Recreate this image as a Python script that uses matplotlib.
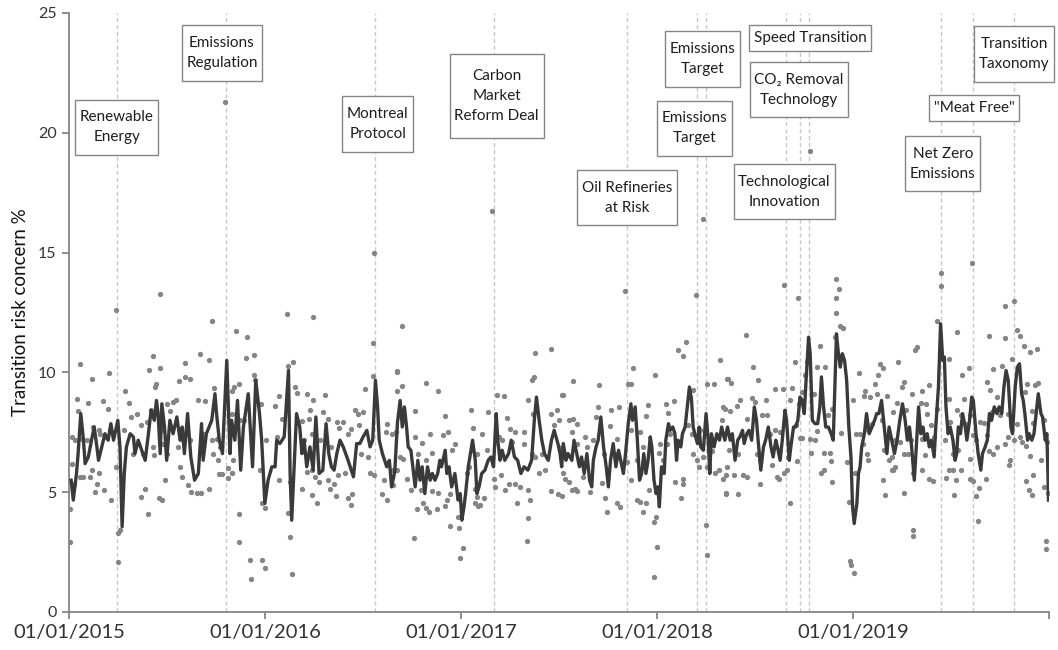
import matplotlib
matplotlib.use("Agg")
import matplotlib.pyplot as plt
from matplotlib.path import Path
import pandas as pd
import numpy as np

plt.rcParams['font.family'] = ['Lato', 'DejaVu Sans']

START = "2015-01-01"

# ---------------- smoothed line (day offset from 01/01/2015, value %) ----------------
line_day = [
    4, 8, 14, 17, 22, 27, 30, 36, 42, 47, 52, 55, 61, 67, 73, 78, 83, 91, 95, 99, 103, 107, 114, 120, 123, 129,
    142, 148, 153, 159, 163, 166, 170, 173, 178, 182, 188, 194, 201, 207, 211, 215, 221, 227, 234, 241, 247,
    250, 256, 266, 272, 275, 280, 286, 294, 300,
    303, 309, 314, 320, 325, 334, 342, 348, 355, 359, 365, 371, 378, 384, 387, 393, 401, 409, 412, 415, 419,
    424, 430, 434, 438, 443, 449, 455, 460, 466, 473, 479, 484, 489, 494, 499, 505, 511, 520, 530, 536, 542,
    548, 555, 561, 566, 571, 575, 578, 584, 592, 597, 601,
    607, 612, 617, 621, 625, 629, 632, 637, 642, 645, 650, 654, 658, 663, 668, 673, 677, 682, 687, 691, 694,
    701, 704, 708, 713, 719, 725, 729, 732, 736, 739, 744, 752, 757, 760, 764, 769, 775, 781, 786, 791, 796,
    799, 803, 807, 812, 819, 824, 830, 836, 842, 848, 855, 862, 867, 871, 876, 881, 886, 893, 899, 904, 911,
    915, 918, 921, 926, 930, 937, 941, 946, 951, 955, 960, 965, 970, 974, 977, 982, 986, 991, 996, 1001, 1005,
    1009, 1014, 1019, 1024, 1028, 1033, 1037, 1042, 1047, 1050, 1055, 1059, 1063, 1067, 1071, 1075, 1079,
    1083, 1086, 1090, 1094, 1097, 1100, 1104, 1109, 1112, 1117, 1120, 1125, 1129, 1132, 1135, 1140, 1143,
    1148, 1152, 1156, 1160, 1163, 1166, 1171, 1174, 1177, 1182, 1187, 1191, 1194, 1197, 1202, 1207, 1212, 1216,
    1222, 1227, 1232, 1236, 1241, 1246, 1250, 1255, 1258, 1263, 1267, 1272, 1277, 1281, 1284, 1289, 1294,
    1298, 1303, 1308, 1312, 1317, 1320, 1325, 1329, 1334, 1337, 1342, 1345, 1350, 1354, 1358, 1362, 1366,
    1370, 1373, 1378, 1381, 1385, 1390, 1395, 1399, 1402, 1406, 1410, 1415, 1420, 1424, 1427, 1430, 1433,
    1437, 1441, 1445, 1449, 1453, 1457, 1460, 1463, 1468, 1471, 1474, 1477, 1482, 1486, 1491, 1496, 1501,
    1505, 1509, 1514, 1519, 1524, 1528, 1533, 1538,
    1543, 1548, 1553, 1558, 1562, 1566, 1570, 1575, 1578, 1583, 1587, 1591, 1595, 1599, 1603, 1607, 1612,
    1615, 1620, 1624, 1628, 1631, 1634, 1638, 1642, 1647, 1651, 1654, 1657, 1661, 1665, 1670, 1673, 1678,
    1682, 1685, 1690, 1694, 1699, 1702, 1707, 1711, 1715, 1719, 1724, 1729, 1733, 1738, 1742, 1746, 1750,
    1755, 1758, 1763, 1767, 1771, 1775, 1778, 1781, 1786, 1789, 1794, 1798, 1802, 1806, 1811, 1814, 1819,
    1822, 1824, 1825,
]
line_val = [
    5.5, 4.67, 5.78, 6.61, 8.28, 7.17, 6.19, 6.47, 7.17, 7.72, 6.89, 6.33, 6.89, 7.44, 7.17, 7.86, 7.17, 8.0,
    6.89, 3.56, 5.78, 6.89, 7.44, 7.31, 6.61, 7.17,
    6.33, 7.44, 8.42, 8.0, 8.83, 8.28, 6.61, 8.69, 7.72, 6.33, 8.0, 7.44, 8.14, 7.17, 7.72, 6.61, 8.28, 6.47,
    5.5, 5.78, 7.86, 6.33, 7.44, 8.0, 9.11, 8.28, 7.17, 6.61, 10.5, 6.61,
    8.0, 7.17, 8.83, 5.92, 7.72, 9.11, 6.06, 9.67, 8.28, 7.17, 4.53, 5.5, 6.06, 6.06, 7.17, 7.03, 7.31, 10.08,
    5.78, 3.83, 5.78, 8.28, 7.72, 6.61, 7.17, 6.06, 6.89, 5.92, 8.14, 5.78, 5.92, 7.86, 6.61, 6.06, 5.92, 6.61,
    7.17, 6.89, 6.33, 5.64, 7.03, 7.03, 7.31, 7.58, 6.89, 7.17, 9.67, 8.56, 7.17, 6.61, 6.06, 6.33, 5.22,
    5.85, 7.9, 8.83, 7.72, 8.56, 7.72, 6.89, 6.75, 5.78, 5.22, 6.33, 5.5, 6.06, 4.94, 6.06, 5.5, 5.78, 5.5,
    5.78, 6.33, 6.06, 6.75, 5.78, 6.06, 5.22, 5.78, 4.67, 4.94, 3.83, 4.39, 4.94, 6.06, 7.17, 6.33, 4.94, 5.22,
    5.78, 5.92, 6.33, 6.47, 6.06, 8.28, 7.17, 6.33, 6.75, 6.33, 6.61, 7.17, 6.47, 6.33, 5.78, 6.06, 5.92, 6.33,
    8.0, 8.97, 8.0, 7.17, 6.61, 6.33, 7.17, 7.58, 7.03,
    6.61, 6.06, 7.03, 6.33, 6.61, 6.33, 7.17, 6.61, 6.06, 6.47, 5.78, 6.61, 5.5, 5.22, 6.33, 6.89, 7.17, 8.14,
    6.89, 6.06, 5.22, 6.33, 7.03, 6.06, 6.75, 6.33, 5.78, 6.61, 7.86, 8.69, 8.0, 8.56, 7.17, 5.5, 5.78, 6.61,
    5.78, 6.33, 7.31, 6.89, 5.5, 4.94, 5.22, 4.39, 6.06, 5.78, 7.17, 7.86, 7.58, 7.72, 7.44, 6.33, 7.17, 6.89,
    7.44, 7.72, 8.56, 9.39, 8.83, 7.72, 7.44, 7.03, 7.72, 6.89, 6.75, 8.28, 7.17, 5.78, 7.44, 6.89, 7.44, 7.17,
    7.72,
    7.17, 7.72, 7.17, 7.44, 6.33, 7.17, 7.31, 7.58, 7.03, 7.44, 7.58, 7.17, 8.56, 8.0, 7.17, 5.92, 6.89, 7.17,
    7.72, 6.89, 6.47, 7.17, 6.89, 6.33, 7.17, 8.42, 8.0, 6.33, 6.89, 7.72, 7.72, 8.0, 8.97, 8.83, 8.28, 9.53,
    11.47, 10.78, 8.0, 7.86, 7.86, 8.56, 9.81, 8.56, 7.72, 7.72, 7.44, 7.17, 9.39, 11.61, 10.92, 10.22, 10.78,
    10.5, 9.67, 7.72, 6.47, 4.39, 3.69, 4.53, 5.78, 6.06, 6.89, 7.44, 8.28, 7.44, 7.72, 8.0, 8.28, 8.28, 8.83,
    7.72, 6.61, 7.72, 7.17, 6.61,
    7.17, 8.0, 8.69, 8.0, 7.17, 7.72, 6.89, 5.5, 6.61, 8.56, 7.44, 7.72, 7.17, 7.44, 6.89, 7.17, 6.47, 7.72,
    9.39, 12.03, 10.5, 10.64, 8.56, 7.44, 7.72, 7.17, 6.33, 6.61, 7.72, 7.44, 8.28, 7.72, 7.17, 8.0, 8.97, 8.83,
    7.44, 6.61, 5.92, 6.61, 6.89, 7.17, 8.28, 8.0, 8.56, 8.28, 8.56, 8.28, 9.39, 10.08, 9.67, 7.72, 7.44, 9.39,
    10.22, 10.36, 9.11, 8.83, 8.28, 7.17, 7.44, 7.17, 7.44, 8.28, 9.11, 8.28, 8.14, 7.17, 7.44, 5.78, 4.67,
]

# ---------------- daily observations (day offset, value %) ----------------
obs_day = [
    # 2015
    170, 87, 266, 20, 156, 244, 261, 216, 170, 149, 75, 43, 216, 225, 205, 163, 161, 270, 104, 15, 36, 64, 241,
    253, 112, 72, 17, 199, 194, 182, 126, 116, 153, 188, 6, 11, 24, 33, 45, 55, 58, 67, 76, 103, 134, 145, 173,
    176, 129, 120, 137, 157, 159, 182, 204, 213, 225, 247, 250, 266, 269, 275, 278, 281, 5, 10, 20, 27, 39, 42,
    52, 55, 66, 48, 78, 87, 92, 95, 92, 2, 2, 142, 135, 147, 168, 174, 179, 207, 211, 222, 227, 238, 246, 260,
    280, 286, 297, 297, 303, 291,
    # late 2015 - mid 2016
    568, 406, 455, 311, 331, 567, 330, 345, 418, 409, 611, 345, 567, 347, 317, 307, 303, 421, 424, 477, 552,
    392, 443, 454, 611, 357, 384, 449, 473, 483, 533, 539, 547, 303, 319, 326, 396, 434, 448, 500, 511, 504,
    525, 519, 541, 592, 591, 601, 609, 368, 387, 437, 452, 468, 489, 545, 558, 306, 303, 355, 392, 411, 443,
    452, 458, 466, 483, 493, 502, 514, 560, 568, 587, 584, 593, 434, 452, 463, 486, 498, 519, 525, 527, 359,
    365, 316, 409, 317, 337, 359, 365, 339, 412, 415, 604, 604,
    # 2016 - 2017
    621, 898, 868, 867, 863, 611, 621, 666, 687, 797, 811, 856, 919, 645, 701, 749, 752, 781, 817, 822, 831,
    847, 865, 899, 909, 913, 904, 673, 696, 707, 719, 714, 657, 645, 651, 677, 666, 617, 623, 770, 778, 761,
    801, 807, 826, 848, 862, 868, 881, 890, 611, 629, 638, 656, 677, 688, 704, 710, 741, 745, 757, 760, 766,
    774, 791, 794, 805, 812, 819, 831, 840, 856, 859, 855, 853, 875, 886, 898, 912, 918, 660, 666, 671, 648,
    685, 701, 710, 727, 724, 735, 729, 642, 757, 763, 834, 788,
    # late 2017 - 2018
    1036, 1168, 1150, 1135, 1144, 1213, 1050, 1092, 1226, 940, 988, 1042, 1048, 1188, 1201, 920, 1163, 1157,
    1127, 1112, 1078, 1075, 1117, 986, 1009, 1024, 1219, 1222, 1216, 932, 940, 947, 982, 937, 962, 1008, 1021,
    1064, 1069, 1047, 1101, 1114, 1120, 1154, 1160, 1176, 1163, 1170, 1181, 918, 924, 946, 965, 976, 996,
    1022, 1039, 1059, 1099, 1107, 1188, 1204, 1212, 1226, 1198, 920, 924, 932, 943, 947, 937, 957, 971, 993,
    1005, 999, 1002, 1021, 1027, 1047, 1059, 1064, 1075, 1070, 1081, 1090, 1094, 1129, 1144, 1144, 1140, 1173,
    1187, 1188, 1096, 1090, 1224, 1218, 1181,
    # mid 2018 - mid 2019
    1333, 1359, 1429, 1435, 1429, 1429, 1437, 1443, 1261, 1427, 1399, 1353, 1376, 1393, 1409, 1275, 1472,
    1227, 1233, 1283, 1511, 1517, 1507, 1316, 1331, 1347, 1371, 1389, 1366, 1501, 1483, 1482, 1492, 1525,
    1272, 1278, 1298, 1300, 1250, 1232, 1244, 1263, 1291, 1343, 1360, 1421, 1415, 1461, 1505, 1514, 1496,
    1489, 1325, 1316, 1306, 1354, 1362, 1365, 1381, 1393, 1390, 1438, 1466, 1474, 1480, 1488, 1230, 1246,
    1281, 1288, 1309, 1340, 1337, 1356, 1383, 1406, 1418, 1420, 1449, 1465, 1486, 1489, 1519, 1528, 1533,
    1225, 1240, 1256, 1263, 1288, 1319, 1323, 1333, 1402, 1407, 1421, 1225, 1246, 1343, 1455, 1457, 1463,
    1453, 1520, 1517, 1381,
    # 2019
    1682, 1624, 1624, 1760, 1744, 1618, 1766, 1772, 1715, 1744, 1580, 1576, 1780, 1791, 1804, 1654, 1639,
    1545, 1677, 1663, 1722, 1738, 1757, 1556, 1553, 1603, 1590, 1570, 1711, 1716, 1729, 1800, 1806, 1785,
    1781, 1542, 1597, 1587, 1668, 1639, 1618, 1535, 1560, 1599, 1607, 1678, 1697, 1704, 1719, 1735, 1750,
    1750, 1766, 1772, 1794, 1797, 1816, 1819, 1642, 1654, 1662, 1673, 1539, 1548, 1568, 1589, 1611, 1632,
    1685, 1690, 1710, 1730, 1744, 1760, 1775, 1784, 1823, 1533, 1555, 1564, 1595, 1648, 1657, 1679, 1715,
    1722, 1753, 1791, 1812, 1535, 1539, 1573, 1589, 1603, 1609, 1639, 1647, 1634, 1653, 1662, 1679, 1685,
    1696, 1709, 1752, 1783, 1788, 1794, 1797, 1817, 1825, 1555, 1649, 1690, 1694, 1573, 1572, 1820, 1820,
]
obs_val = [
    # 2015
    13.28, 12.61, 12.14, 10.33, 10.67, 10.75, 10.5, 10.39, 10.19, 10.08, 9.99, 9.74, 9.81, 9.74, 9.64, 9.5,
    9.39, 9.36, 9.21, 8.9, 8.72, 8.79, 8.83, 8.81, 8.74, 8.49, 8.39, 8.86, 8.76, 8.69, 8.28, 8.14, 8.42, 8.38,
    7.31, 7.17, 7.24, 7.19, 7.72, 7.58, 7.44, 7.31, 7.61, 7.58, 7.82, 7.93, 7.58, 7.03, 7.03, 6.61, 6.61, 6.89,
    6.54, 6.61, 6.89, 7.17, 7.17, 7.31, 7.44, 7.17, 6.61, 7.24, 6.33, 6.89, 6.19, 5.36, 5.64, 5.64, 5.64, 5.92,
    5.36, 5.78, 5.08, 5.01, 4.67, 6.06, 3.28, 3.42, 2.08, 4.28, 2.93, 5.15, 4.81, 4.11, 4.76, 4.67, 5.5, 6.06,
    5.64, 5.29, 5.01, 4.97, 4.97, 5.15, 5.75, 5.75, 5.61, 5.99, 5.78, 21.3,
    # late 2015 - mid 2016
    14.97, 12.42, 12.31, 11.71, 11.47, 11.22, 10.61, 10.71, 10.43, 10.25, 10.04, 9.88, 9.83, 9.67, 9.5, 9.39,
    9.22, 9.39, 9.14, 9.07, 9.31, 9.0, 9.1, 8.83, 9.22, 8.67, 8.58, 8.42, 8.36, 8.06, 8.42, 8.28, 8.33, 8.28,
    8.0, 8.0, 8.07, 7.97, 8.07, 7.92, 7.92, 7.69, 7.65, 7.42, 7.79, 7.83, 7.51, 7.44, 7.51, 7.17, 7.31, 7.17,
    7.44, 7.19, 6.89, 6.61, 6.47, 6.33, 5.78, 5.92, 5.5, 5.43, 5.85, 5.92, 5.64, 5.43, 5.5, 5.36, 5.71, 5.78,
    5.78, 5.71, 5.5, 4.94, 4.67, 5.15, 4.88, 4.56, 5.15, 4.83, 4.74, 4.46, 4.94, 4.53, 4.32, 4.11, 4.14, 2.93,
    2.19, 2.19, 1.82, 1.36, 3.14, 1.58, 5.29, 5.92,
    # 2016 - 2017
    11.94, 10.97, 10.81, 9.81, 9.69, 10.01, 9.42, 9.56, 9.21, 9.04, 9.0, 8.83, 9.04, 8.39, 8.18, 8.44, 7.69,
    8.35, 8.11, 7.63, 7.51, 7.5, 8.28, 8.28, 8.42, 8.0, 7.79, 7.44, 7.4, 7.5, 7.0, 6.75, 7.06, 7.31, 6.61,
    6.64, 6.33, 6.47, 6.4, 7.44, 6.75, 6.61, 7.31, 7.17, 7.1, 7.0, 6.61, 6.47, 6.61, 6.47, 5.92, 5.57, 5.08,
    5.11, 5.06, 4.97, 4.67, 4.94, 5.78, 6.06, 5.15, 4.81, 4.46, 4.76, 5.57, 5.22, 5.71, 5.11, 5.36, 5.36,
    5.22, 5.11, 4.67, 3.94, 2.96, 5.78, 5.92, 5.06, 4.94, 4.83, 4.53, 4.32, 4.18, 4.28, 4.28, 4.44, 3.58,
    3.49, 3.97, 2.65, 2.24, 3.07, 4.53, 4.43, 4.53, 16.75,
    # late 2017 - 2018
    13.39, 13.24, 11.28, 10.92, 10.69, 10.5, 10.19, 9.88, 9.74, 9.63, 9.47, 9.53, 9.5, 9.5, 9.5, 9.04, 9.28,
    8.97, 8.79, 8.69, 8.63, 8.18, 8.31, 8.56, 8.44, 8.56, 8.56, 8.49, 8.0, 8.0, 8.07, 7.83, 8.14, 7.51, 7.31,
    7.75, 7.24, 7.51, 6.89, 7.61, 7.0, 7.0, 7.44, 7.79, 7.44, 7.58, 6.61, 6.33, 6.47, 6.89, 6.61, 7.03, 6.89,
    7.17, 6.61, 6.61, 6.26, 6.33, 6.64, 6.33, 6.06, 5.78, 5.92, 6.06, 6.72, 5.78, 5.53, 5.43, 5.15, 5.06,
    5.11, 5.64, 5.01, 5.39, 5.78, 4.74, 4.18, 4.53, 4.39, 5.5, 4.67, 4.6, 4.53, 4.18, 5.08, 3.76, 3.97, 5.43,
    5.57, 5.36, 4.74, 6.06, 3.63, 2.38, 2.72, 1.44, 4.94, 5.53, 16.4,
    # mid 2018 - mid 2019
    13.65, 13.11, 13.9, 13.49, 13.11, 12.47, 11.92, 11.86, 11.57, 11.47, 11.11, 10.44, 10.43, 10.22, 10.22,
    10.22, 9.97, 9.74, 9.56, 9.67, 10.33, 10.18, 9.88, 9.32, 9.32, 9.36, 9.88, 9.11, 9.18, 9.5, 9.22, 9.0,
    8.97, 9.0, 8.94, 8.76, 8.83, 8.21, 8.83, 8.39, 8.58, 8.07, 8.21, 8.83, 8.69, 8.49, 8.21, 8.83, 9.11, 8.0,
    7.86, 7.72, 7.51, 7.58, 7.44, 7.79, 7.28, 7.28, 7.22, 7.56, 7.19, 7.47, 7.44, 7.44, 7.0, 7.58, 6.75, 6.61,
    6.61, 6.33, 6.13, 6.47, 5.92, 6.31, 6.64, 6.64, 6.64, 6.31, 6.26, 5.78, 6.61, 6.33, 6.75, 6.33, 5.92,
    5.71, 5.71, 5.71, 5.64, 5.36, 5.64, 5.53, 5.78, 5.78, 5.92, 5.43, 4.97, 4.94, 4.53, 2.14, 1.96, 1.64,
    4.6, 4.88, 5.5, 19.25,
    # 2019
    14.57, 14.15, 13.6, 12.97, 12.76, 12.14, 11.78, 11.51, 11.51, 11.43, 11.06, 10.94, 11.11, 10.85, 10.96,
    11.68, 10.57, 10.43, 10.19, 9.88, 10.15, 10.26, 10.57, 9.61, 9.39, 9.46, 9.21, 9.1, 9.61, 9.25, 8.97,
    9.46, 9.56, 9.53, 9.18, 8.74, 8.67, 8.74, 8.89, 8.9, 8.49, 8.35, 8.42, 8.28, 7.79, 8.21, 7.92, 7.89, 8.35,
    8.21, 8.28, 7.31, 7.83, 7.31, 8.39, 7.89, 8.0, 7.44, 7.93, 8.42, 8.21, 7.86, 7.17, 7.1, 7.17, 7.24, 7.31,
    7.17, 7.38, 7.17, 7.38, 6.89, 7.03, 7.17, 7.1, 6.92, 7.1, 6.47, 6.61, 6.61, 6.54, 6.61, 6.78, 6.4, 6.72,
    6.61, 6.36, 6.5, 6.36, 5.92, 6.06, 5.78, 5.94, 5.57, 5.47, 5.92, 5.94, 5.61, 5.5, 5.94, 5.57, 5.47, 5.19,
    5.57, 6.13, 5.46, 5.08, 4.88, 5.71, 5.22, 4.97, 4.97, 4.88, 4.83, 3.79, 3.42, 3.17, 2.97, 2.61,
]

# ---------------- events ----------------
event_dates = ["2015-03-31", "2015-10-20", "2016-07-24", "2017-03-03", "2017-11-05", "2018-03-17",
               "2018-04-01", "2018-08-29", "2018-09-24", "2018-10-11", "2019-06-14", "2019-08-13",
               "2019-10-28"]
event_labels = ["Renewable\nEnergy", "Emissions\nRegulation", "Montreal\nProtocol",
                "Carbon\nMarket\nReform Deal", "Oil Refineries\nat Risk", "Emissions\nTarget",
                "Emissions\nTarget", "Speed Transition", "CO\u2082 Removal\nTechnology",
                "Technological\nInnovation", "Net Zero\nEmissions", "\"Meat Free\"",
                "Transition\nTaxonomy"]
# label box centres (layout): (day offset, y in data units)
label_pos = [(89, 20.23), (285, 23.33), (575, 20.37), (797, 21.52), (1040, 17.29), (1165, 20.19),
             (1181, 23.08), (1381, 23.96), (1360, 21.79), (1333, 17.54), (1628, 18.71), (1687, 21.02),
             (1761, 23.29)]

x_ticks = ["2015-01-01", "2016-01-01", "2017-01-01", "2018-01-01", "2019-01-01", "2020-01-01"]
x_tick_labels = ["01/01/2015", "01/01/2016", "01/01/2017", "01/01/2018", "01/01/2019", ""]
y_ticks = [0, 5, 10, 15, 20, 25]

assert len(line_day) == len(line_val)
assert len(obs_day) == len(obs_val)

start = pd.Timestamp(START)
to_date = lambda d: start + pd.to_timedelta(np.asarray(d), unit="D")


def label_box(x0, y0, width, height, mutation_size):
    """Text-box outline: modest side padding, taller vertical padding."""
    px = 0.3 * mutation_size
    py = 0.22 * height + 0.2 * mutation_size
    xa, ya = x0 - px, y0 - py
    xb, yb = x0 + width + px, y0 + height + py
    return Path([(xa, ya), (xb, ya), (xb, yb), (xa, yb), (xa, ya)], closed=True)


fig = plt.figure(figsize=(10.58, 6.5), dpi=100)
ax = fig.add_axes([0.0652, 0.0585, 0.9263, 0.9215])

axis_grey = "#868686"
text_col = "#333333"

for d in event_dates:
    ax.axvline(pd.Timestamp(d), color="#c8c8c8", lw=1.0, ls=(0, (3, 2)), zorder=1)

ax.plot(to_date(obs_day), obs_val, ls="none", marker="o", ms=2.8, mfc="#858585", mec="#858585",
        zorder=2)
ax.plot(to_date(line_day), line_val, color="#3a3a3a", lw=2.4, zorder=3)

for (d, y), lab in zip(label_pos, event_labels):
    ax.text(start + pd.Timedelta(days=d), y, lab, ha="center", va="center", fontsize=11,
            color="#1e1e1e", linespacing=1.55, zorder=5,
            bbox=dict(boxstyle=label_box, fc="white", ec="#858585", lw=1.0))

ax.set_xlim(pd.Timestamp("2015-01-01"), pd.Timestamp("2020-01-01"))
ax.set_ylim(0, 25)
ax.set_xticks([pd.Timestamp(t) for t in x_ticks])
ax.set_xticklabels(x_tick_labels)
ax.set_yticks(y_ticks)

for s in ["top", "right"]:
    ax.spines[s].set_visible(False)
for s in ["left", "bottom"]:
    ax.spines[s].set_color(axis_grey)
    ax.spines[s].set_linewidth(1.3)
ax.tick_params(axis="both", colors=axis_grey, labelcolor=text_col, length=5, width=1.3)
ax.tick_params(axis="x", labelsize=14.5, pad=4)
ax.tick_params(axis="y", labelsize=11.5, pad=4)
ax.set_ylabel("Transition risk concern %", fontsize=13.5, color="#111111", labelpad=6)

fig.savefig("out.png", dpi=100)
